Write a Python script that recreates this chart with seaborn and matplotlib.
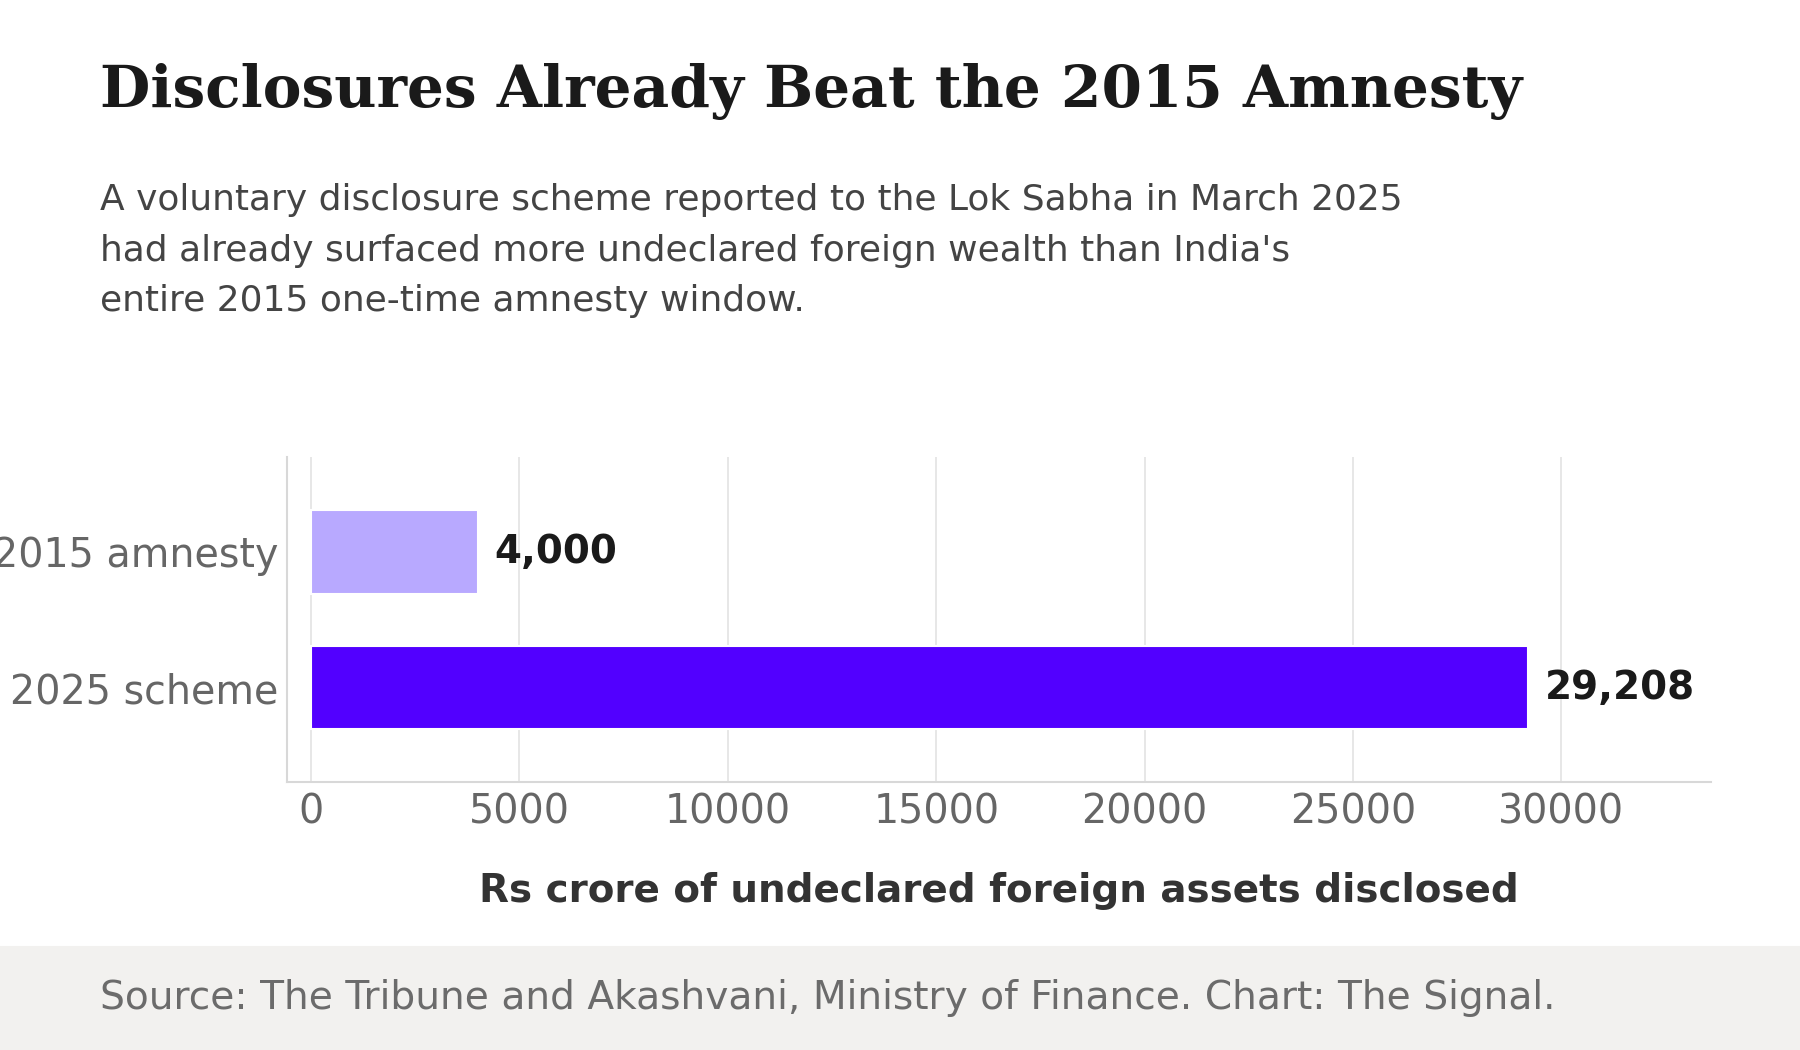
import pandas as pd
import matplotlib.pyplot as plt
import seaborn as sns

# data
categories = ['2015 amnesty', '2025 scheme']
values = [4000, 29208]
bar_colors = ['#b8a9ff', '#5200ff']
value_labels = ['4,000', '29,208']

title = 'Disclosures Already Beat the 2015 Amnesty'
subtitle_lines = [
    'A voluntary disclosure scheme reported to the Lok Sabha in March 2025',
    "had already surfaced more undeclared foreign wealth than India's",
    'entire 2015 one-time amnesty window.',
]
x_label = 'Rs crore of undeclared foreign assets disclosed'
source = 'Source: The Tribune and Akashvani, Ministry of Finance. Chart: The Signal.'


def make_chart():
    sns.set_theme(style='white')
    plt.rcParams['font.family'] = ['DejaVu Sans']

    df = pd.DataFrame({'category': categories, 'value': values})

    fig = plt.figure(figsize=(12, 7), dpi=150)
    ax = fig.add_axes([0.1594, 0.2552, 0.9506 - 0.1594, 0.5648 - 0.2552])

    sns.barplot(data=df, y='category', x='value', hue='category',
                palette=dict(zip(categories, bar_colors)), order=categories,
                width=0.615, saturation=1, legend=False, ax=ax, zorder=3)

    ax.set_xlim(-580, max(values) * 1.15)
    ax.set_ylim(1.695, -0.7)
    ax.set_xticks([0, 5000, 10000, 15000, 20000, 25000, 30000])
    ax.grid(axis='x', color='#e3e3e3', linewidth=0.8, zorder=0)
    ax.grid(axis='y', visible=False)

    for side in ['top', 'right']:
        ax.spines[side].set_visible(False)
    for side in ['left', 'bottom']:
        ax.spines[side].set_color('#d8d8d8')
        ax.spines[side].set_linewidth(1.0)

    ax.tick_params(axis='both', length=0, labelsize=19, labelcolor='#666666')
    ax.tick_params(axis='y', pad=4)
    ax.tick_params(axis='x', pad=5)
    ax.set_ylabel('')
    ax.set_xlabel(x_label, fontsize=18.7, fontweight='bold', color='#333333', labelpad=19)

    # value labels at the bar ends
    for i, (v, lab) in enumerate(zip(values, value_labels)):
        ax.annotate(lab, xy=(v, i), xytext=(8, 0), textcoords='offset points',
                    va='center', ha='left', fontsize=18.7, fontweight='bold', color='#1a1a1a')

    fig.text(0.0556, 0.898, title, family='DejaVu Serif', fontweight='bold',
             fontsize=27.9, color='#1a1a1a', va='baseline')
    for y, line in zip([0.800, 0.7514, 0.7038], subtitle_lines):
        fig.text(0.0556, y, line, fontsize=17.3, color='#444444', va='baseline')

    # footer band
    fig.patches.append(plt.Rectangle((0, 0), 1, 0.098, transform=fig.transFigure,
                                     color='#f2f1ef', zorder=0))
    fig.text(0.0556, 0.039, source, fontsize=18.8, color='#6b6b6b', va='baseline')

    fig.savefig('out.png', dpi=150, facecolor='white')


if __name__ == '__main__':
    make_chart()
